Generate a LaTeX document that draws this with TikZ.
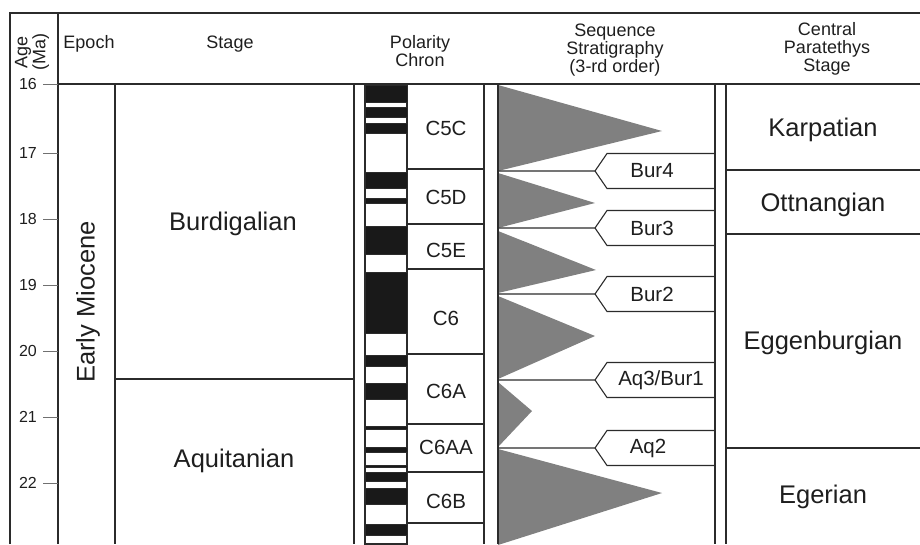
\documentclass[tikz,border=0pt]{standalone}
\usepackage{fontspec}
\setmainfont{Liberation Sans}
\usepackage{tikz}
\definecolor{rule}{HTML}{2B2B2B}
\definecolor{wedge}{HTML}{808080}
\definecolor{ink}{HTML}{1E1E1E}
\definecolor{tickgray}{HTML}{707070}

\begin{document}
\begin{tikzpicture}[x=1pt,y=-1pt]
      \tikzset{frame/.style={draw=rule,line width=1.2pt}, thin/.style={draw=rule,line width=1.1pt}, head/.style={font=\fontsize{18}{18}\selectfont,align=center,text=ink}, big/.style={font=\fontsize{25.5}{28}\selectfont,text=ink}, chron/.style={font=\fontsize{20.5}{22}\selectfont,text=ink}, seqtag/.style={font=\fontsize{20.5}{22}\selectfont,text=ink}, agelbl/.style={font=\fontsize{16}{18}\selectfont,anchor=east,inner sep=0pt,text=ink}}
      \useasboundingbox (0,0) rectangle (920,544);
      % sequence wedges
      \foreach \t/\b/\tx/\ty in {85/171/662/131, 173/228/595/203, 231/293/596/270, 296/379/595/336, 382/447/532/411, 449/545/662/493}
        \fill[wedge] (498,\t) -- (\tx,\ty) -- (498,\b) -- cycle;
      % polarity bar
      \draw[thin,fill=white] (365,84) rectangle (407,544);
      \foreach \t/\b in {85/102, 107/117, 123/133, 172/188, 198/203, 226/254, 272/333, 355/366, 383/399, 426/429, 447/452, 465/467, 472/481, 488/504, 524/535}
        \filldraw[fill=black!90,draw=rule,line width=0.6pt] (365,\t) rectangle (407,\b);
      % frame and columns
      \draw[frame] (10,544) -- (10,13) -- (920,13);
      \draw[frame] (58,13) -- (58,544);
      \draw[frame] (58,84) -- (920,84);
      \foreach \x in {115,354,484,498,715,726}
        \draw[frame] (\x,84) -- (\x,544);
      % boundaries
      \draw[thin] (115,379) -- (354,379);
      \foreach \y in {169,224,269,354,424,472,523}
        \draw[thin] (407,\y) -- (484,\y);
      \foreach \y in {170,234,448}
        \draw[thin] (726,\y) -- (920,\y);
      % age axis
      \foreach \a/\y in {16/84, 17/153, 18/219, 19/285, 20/351, 21/417, 22/483} {
        \draw[tickgray,line width=0.8pt] (43,\y) -- (58,\y);
        \node[agelbl] (age\a) at (37,\y) {\a};
      }
      % sequence boundaries
      \foreach \y/\lbl/\lx [count=\i] in {171/Bur4/652, 228/Bur3/652, 294/Bur2/652, 380/{Aq3/Bur1}/661, 448/Aq2/648} {
        \draw[thin] (498,\y) -- (595,\y) -- (607,\y-17.5) -- (715,\y-17.5);
        \draw[thin] (595,\y) -- (607,\y+17.5) -- (715,\y+17.5);
        \node[seqtag] (sb\i) at (\lx,\y) {\lbl};
      }
      % headers
      \node[head,rotate=90] (agehd) at (32,52) {Age\\(Ma)};
      \node[head] (epochhd) at (89,44) {Epoch};
      \node[head] (stagehd) at (230,44) {Stage};
      \node[head] (polhd) at (420,51) {Polarity\\Chron};
      \node[head] (seqhd) at (615,50) {Sequence\\Stratigraphy\\(3-rd order)};
      \node[head] (cphd) at (827,49) {Central\\Paratethys\\Stage};
      % epoch and stages
      \node[big,rotate=90] (miocene) at (88,302) {Early Miocene};
      \node[big] (burdig) at (233,224) {Burdigalian};
      \node[big] (aquit) at (234,461) {Aquitanian};
      \node[big] (karp) at (823,130) {Karpatian};
      \node[big] (ottn) at (823,205) {Ottnangian};
      \node[big] (eggen) at (823,343) {Eggenburgian};
      \node[big] (eger) at (823,497) {Egerian};
      % chrons
      \foreach \y/\c in {128/C5C, 197/C5D, 250/C5E, 318/C6, 391/C6A, 447/C6AA, 501/C6B}
        \node[chron] (chron\c) at (446,\y) {\c};
    \end{tikzpicture}
\end{document}
